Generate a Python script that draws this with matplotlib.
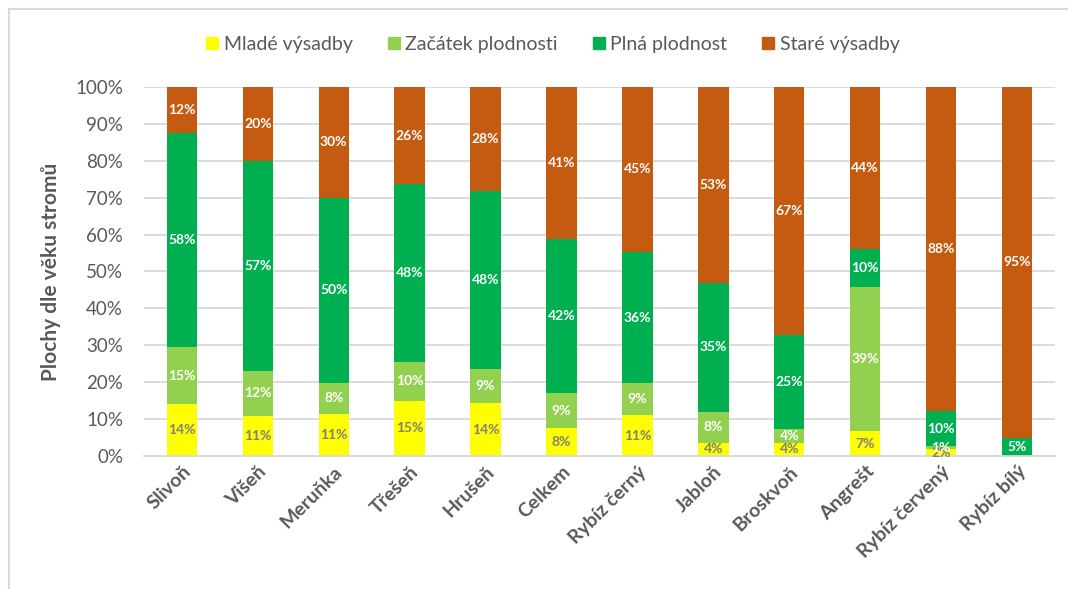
import matplotlib.pyplot as plt
import numpy as np
from matplotlib.lines import Line2D

plt.rcParams["font.family"] = ["Lato", "DejaVu Sans"]

# Share of orchard area by tree age, in percent
categories = ["Slivoň", "Višeň", "Meruňka", "Třešeň", "Hrušeň", "Celkem",
              "Rybíz černý", "Jabloň", "Broskvoň", "Angrešt", "Rybíz červený", "Rybíz bílý"]
mlade = [14.1, 10.8, 11.4, 15.0, 14.3, 7.6, 11.0, 3.6, 3.6, 6.7, 1.8, 0.0]
zacatek = [15.4, 12.3, 8.4, 10.4, 9.2, 9.4, 8.7, 8.4, 3.8, 39.1, 0.8, 0.0]
plna = [58.0, 56.9, 50.2, 48.3, 48.4, 41.7, 35.6, 35.0, 25.4, 10.2, 9.6, 5.0]
stare = [12.5, 20.0, 30.0, 26.3, 28.1, 41.3, 44.7, 53.0, 67.2, 44.0, 87.8, 95.0]

series = [
    ("Mladé výsadby", mlade, "#ffff00", "#7f7f7f"),
    ("Začátek plodnosti", zacatek, "#92d050", "white"),
    ("Plná plodnost", plna, "#00b050", "white"),
    ("Staré výsadby", stare, "#c55a11", "white"),
]

fig = plt.figure(figsize=(10.68, 5.89), dpi=100)
ax = fig.add_axes([0.1348, 0.2258, 0.8530, 0.6265])

x = np.arange(len(categories))
bottom = np.zeros(len(categories))
for name, vals, color, txt in series:
    vals = np.array(vals)
    ax.bar(x, vals, 0.40, bottom=bottom, color=color, label=name, zorder=2)
    for xi, b, v in zip(x, bottom, vals):
        if v > 0:
            ax.text(xi, b + v / 2, f"{round(v):.0f}%", ha="center", va="center",
                    color=txt, fontsize=10, fontweight="bold", zorder=3)
    bottom += vals

ax.set_xlim(-0.5, len(categories) - 0.5)
ax.set_ylim(0, 100)
ax.set_yticks(np.arange(0, 101, 10))
ax.set_yticklabels([f"{v}%" for v in range(0, 101, 10)], fontsize=13.5, color="#595959")
ax.yaxis.grid(True, color="#d9d9d9", linewidth=1.3, zorder=0)
ax.set_axisbelow(True)
ax.tick_params(axis="y", length=0, pad=15)
ax.tick_params(axis="x", length=0, pad=5)
ax.set_xticks(x)
ax.set_xticklabels(categories, rotation=45, ha="right", rotation_mode="anchor",
                   fontsize=14, fontweight="bold", color="#595959")
for s in ["left", "right", "top"]:
    ax.spines[s].set_visible(False)
ax.spines["bottom"].set_color("#d9d9d9")
ax.spines["bottom"].set_linewidth(1.3)

ax.set_ylabel("Plochy dle věku stromů", fontsize=15, fontweight="bold",
              color="#595959", labelpad=10)

handles = [Line2D([], [], marker="s", linestyle="none", markersize=9,
                  markerfacecolor=c, markeredgecolor=c) for _, _, c, _ in series]
fig.legend(handles, [n for n, _, _, _ in series], loc="center",
           bbox_to_anchor=(0.515, 0.924), ncol=4, frameon=False, fontsize=14,
           handletextpad=0.0, columnspacing=1.5, handlelength=1.2,
           labelcolor="#595959")

# chart area frame
fig.add_artist(Line2D([9 / 1068, 1], [1 - 9 / 589] * 2, color="#d9d9d9", linewidth=1.5))
fig.add_artist(Line2D([9 / 1068] * 2, [0, 1 - 9 / 589], color="#d9d9d9", linewidth=1.5))

fig.savefig("out.png", dpi=100)
